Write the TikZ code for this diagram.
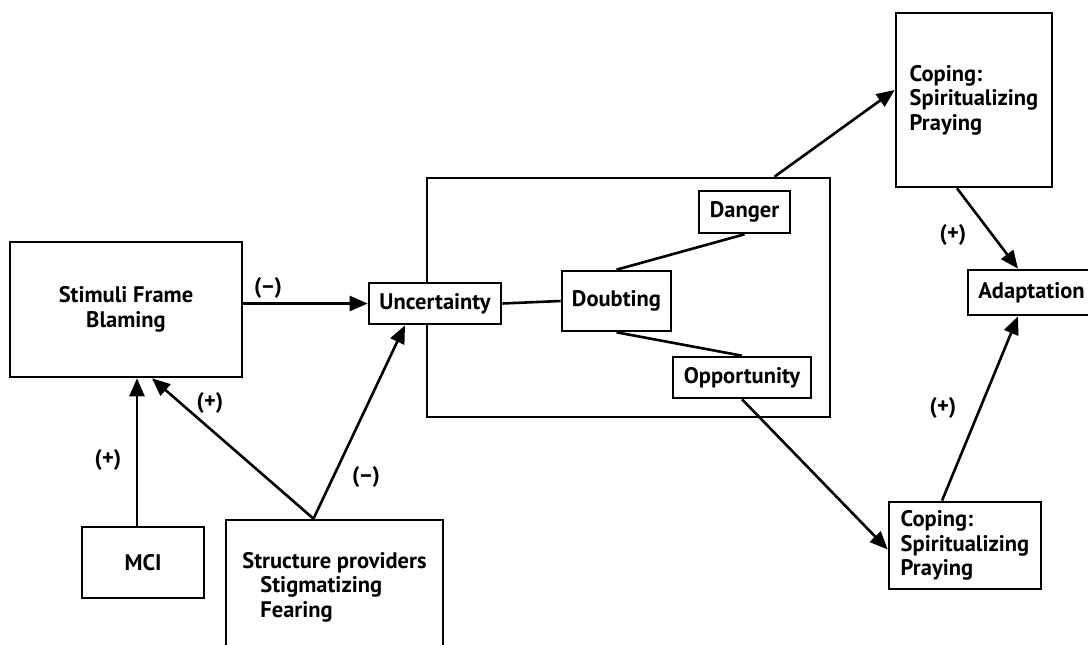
\documentclass[tikz,border=0pt]{standalone}
\usepackage{fontspec}
\setmainfont{PT Sans}
\usetikzlibrary{arrows.meta}
\begin{document}
\begin{tikzpicture}[x=1pt,y=-1pt,
  every node/.style={font=\fontsize{22.5}{24.5}\selectfont\bfseries},
  box/.style={draw,line width=2.6pt,inner sep=0pt,minimum width=#1},
  conn/.style={line width=2.6pt},
  arr/.style={conn,-{Triangle[length=18pt,width=15pt]}},
  lbl/.style={inner sep=0pt}]
\useasboundingbox (0,0) rectangle (1088,645);
\clip (0,0) rectangle (1088,645);

% boxes
\node[box=232pt,minimum height=135pt,align=center] (stim) at (126,309.5) {Stimuli Frame\\Blaming};
\node[box=122pt,minimum height=71pt] (mci) at (143,562.5) {MCI};
\node[box=217pt,minimum height=134pt,align=left] (sp) at (334.5,587) {Structure providers\\\hspace{18pt}Stigmatizing\\\hspace{18pt}Fearing};
\node[box=403pt,minimum height=239pt] (frame) at (628.5,297.5) {};
\node[box=132pt,minimum height=41pt,fill=white] (unc) at (435,303.5) {Uncertainty};
\node[box=109pt,minimum height=60pt] (dbt) at (616.5,301) {Doubting};
\node[box=91pt,minimum height=42pt] (dan) at (744.5,212) {Danger};
\node[box=138pt,minimum height=41pt] (opp) at (742,377.5) {Opportunity};
\node[box=156pt,minimum height=174pt,align=left] (cop1) at (974,100) {Coping:\\Spiritualizing\\Praying};
\node[box=152pt,minimum height=87pt,align=left] (cop2) at (965,545.5) {Coping:\\Spiritualizing\\Praying};
\node[box=127pt,minimum height=45pt] (adp) at (1031.5,292.5) {Adaptation};

% connector end points
\coordinate (mciTop) at ([xshift=-6pt]mci.north);
\coordinate (spTop) at ([xshift=-21pt]sp.north);
\coordinate (frameTop) at ([xshift=146pt]frame.north);

% connectors
\draw[arr] (unc.west -| stim.east) -- (unc.west);
\draw[arr] (mciTop) -- (mciTop |- stim.south);
\draw[arr] (spTop) -- ([xshift=26pt]stim.south);
\draw[arr] (spTop) -- ([xshift=-30pt]unc.south);
\draw[conn] (unc.east) -- (dbt.west);
\draw[conn] (dbt.north) -- (dan.south);
\draw[conn] (dbt.south) -- (opp.north);
\draw[arr] (frameTop) -- ([yshift=10pt]cop1.west);
\draw[arr] (opp.south) -- ([yshift=-4pt]cop2.west);
\draw[arr] ([xshift=-17pt]cop1.south) -- ([xshift=-13.5pt]adp.north);
\draw[arr] ([xshift=-23pt]cop2.north) -- ([xshift=-13.5pt]adp.south);

% signs
\node[lbl] (s1) at (268,288) {(–)};
\node[lbl] (s2) at (108,460) {(+)};
\node[lbl] (s3) at (210,403) {(+)};
\node[lbl] (s4) at (366,477) {(–)};
\node[lbl] (s5) at (953,235) {(+)};
\node[lbl] (s6) at (943,408) {(+)};
\end{tikzpicture}
\end{document}
